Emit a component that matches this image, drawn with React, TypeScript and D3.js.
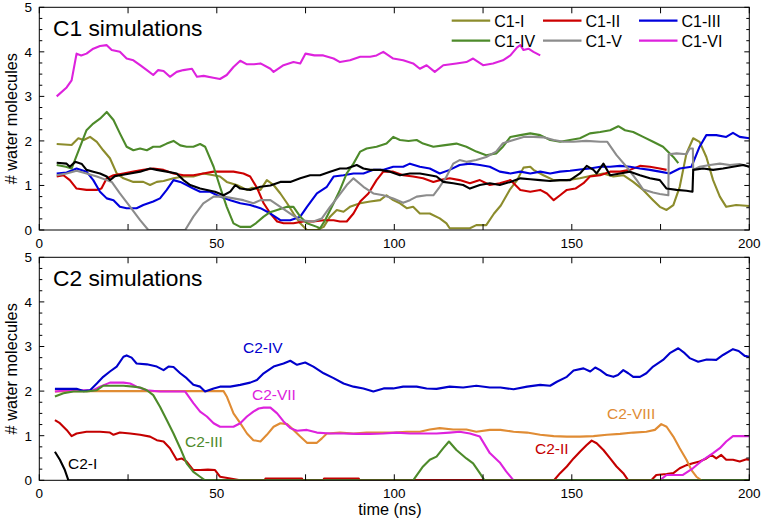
import React, { useEffect, useRef } from "react";
import * as d3 from "d3";

type P = [number, number] | null;

// ---------- top panel (C1) ----------
const C1_I: P[] = [[4.9,1.93],[7,1.92],[9.1,1.91],[11,2.06],[12.5,2.02],[14.3,2.09],[16.2,1.98],[18,1.79],[19.9,1.61],[21.8,1.27],[23.7,1.16],[26.5,1.08],[29.3,1.08],[31.2,1.01],[33.1,1.08],[35,1.1],[37.8,1.16],[40.6,1.2],[43.4,1.2],[46.2,1.27],[49.1,1.23],[50.9,1.2],[52.8,1.08],[55.6,1.01],[58.5,0.9],[60,0.95],[62.3,0.9],[64.1,1.12],[66,1.01],[67.9,0.82],[69.8,0.6],[71.6,0.37],[73.5,0.15],[75.4,0],[78.2,0],[80.1,0.07],[81.9,0.3],[83.8,0.45],[85.7,0.41],[87.5,0.52],[90.4,0.6],[93.2,0.64],[96,0.67],[97.8,0.78],[99.7,0.67],[101.6,0.6],[103.5,0.49],[105.3,0.52],[107.2,0.37],[110,0.37],[112.8,0.26],[114.7,0.15],[115.6,0.04],[121.3,0.04],[123.1,0.11],[125.9,0.11],[128.1,0.37],[130,0.55],[132.5,0.9],[134.6,1.12],[136.4,1.4],[138.3,1.42],[139.2,1.35],[142,1.23],[144.9,1.12],[148.6,1.12],[152.3,1.16],[156.1,1.23],[158.9,1.27],[161.7,1.2],[164.5,1.23],[167.3,1.08],[170.1,0.9],[172.9,0.67],[174.8,0.52],[176.7,0.45],[178.6,0.56],[180.4,0.97],[182.3,1.72],[184.2,2.06],[186,1.98],[187.9,1.64],[189.8,1.12],[191.7,0.75],[193.5,0.52],[196.3,0.56],[200,0.54]];
const C1_II: P[] = [[4.9,1.2],[6.8,1.23],[8.6,1.12],[10.5,0.93],[13.3,0.9],[16.2,0.9],[17.5,0.93],[19,1.16],[20.9,1.23],[23.7,1.27],[26.5,1.31],[29.3,1.35],[32.1,1.38],[35,1.35],[37.8,1.27],[40.6,1.23],[43.4,1.23],[46.2,1.27],[49.1,1.31],[51.9,1.31],[54.7,1.31],[57.5,1.27],[59.4,1.2],[61.3,0.95],[63.2,0.6],[65.1,0.37],[67,0.19],[68.8,0.15],[71.6,0.15],[74.4,0.19],[77.2,0.19],[80.1,0.22],[82.9,0.22],[84.7,0.19],[86.6,0.19],[88.5,0.37],[90.4,0.64],[92.7,0.82],[95,1.12],[96.9,1.31],[99.7,1.31],[102.5,1.23],[105.3,1.2],[108.1,1.16],[111,1.08],[112.8,1.12],[115.6,1.16],[118.4,1.12],[121.3,1.05],[124.1,1.12],[126.9,1.01],[129.7,1.05],[132.7,1.12],[135.5,0.9],[138.3,0.86],[141.1,0.9],[143,0.82],[144.9,0.67],[146.7,0.78],[148.6,0.9],[151,0.93],[153.3,1.05],[155.1,1.2],[158,1.23],[160.8,1.31],[163.6,1.31],[166.4,1.35],[169.2,1.44],[172,1.42],[174.8,1.38],[176.7,1.35]];
const C1_III: P[] = [[4.9,1.27],[7.7,1.29],[10.5,1.38],[13.3,1.31],[15.2,1.12],[17.1,0.86],[19,0.71],[20.9,0.67],[22.7,0.52],[24.6,0.49],[27.4,0.49],[29.3,0.56],[32.1,0.64],[34,0.71],[35.9,0.9],[37.8,1.12],[39.7,1.08],[41.5,1.01],[43.4,0.93],[45.3,0.86],[48.1,0.86],[50.9,0.75],[53.8,0.67],[56.6,0.6],[59.4,0.56],[62.3,0.49],[65.1,0.37],[67.9,0.22],[70.7,0.22],[73.5,0.3],[75.4,0.52],[78.2,0.82],[81,0.97],[82.9,1.2],[85.7,1.23],[88.5,1.27],[91.3,1.27],[94.1,1.35],[97,1.35],[99.7,1.42],[102.5,1.42],[104.4,1.49],[107.2,1.42],[110,1.38],[112.8,1.27],[115.6,1.35],[118.4,1.46],[121.3,1.49],[124.1,1.46],[126.9,1.42],[129.7,1.31],[132.7,1.27],[135.5,1.31],[138.3,1.27],[141.1,1.31],[143.9,1.27],[146.7,1.31],[149.5,1.33],[152.3,1.36],[155.1,1.38],[158,1.42],[160.8,1.42],[163.6,1.44],[166.4,1.42],[169.2,1.38],[172,1.35],[174.8,1.31],[177.6,1.27],[180.4,1.38],[183.7,1.42],[186,1.87],[187.9,2.13],[190.7,2.13],[193.5,2.09],[195.4,2.18],[197.3,2.09],[200,2.06]];
const C1_IV: P[] = [[4.9,1.46],[7.5,1.42],[9.1,1.38],[11.5,1.87],[13.3,2.24],[15.2,2.39],[17.1,2.5],[19,2.65],[20.9,2.47],[22.7,2.17],[24.6,1.87],[26.5,1.79],[28.4,1.83],[30.3,1.79],[32.1,1.87],[34,1.87],[35.9,1.94],[37.8,2.0],[39.7,1.9],[41.5,1.87],[43.4,1.87],[45.3,1.93],[46.7,1.87],[49.1,1.42],[50.9,0.97],[52.8,0.52],[54.7,0.15],[56.6,0.07],[59.5,0.07],[61,0.15],[63.2,0.3],[65,0.4],[67,0.45],[69.8,0.52],[71.6,0.52],[73.5,0.3],[75.4,0.15],[78.2,0.07],[79.1,0.04],[80.5,0.22],[82.9,0.6],[84.7,0.9],[86.6,1.27],[88.5,1.49],[90.4,1.76],[92.2,1.83],[95,1.87],[97.8,1.94],[99.7,2.09],[101.6,2.02],[104,2.0],[106.3,2.02],[108.1,1.94],[111,1.87],[113.8,1.9],[117.5,1.94],[120.3,1.87],[123.1,1.76],[125.9,1.68],[128.7,1.72],[130.6,1.87],[132.7,2.09],[135.5,2.13],[138.3,2.17],[141.1,2.13],[143.9,2.02],[146.7,1.98],[149.5,2.02],[152.3,2.06],[155.1,2.17],[158,2.2],[160.8,2.24],[163.1,2.33],[165,2.24],[167.3,2.2],[170.1,2.09],[172.9,1.98],[175.7,1.87],[178.6,1.64],[180,1.5]];
const C1_V: P[] = [[4.9,1.23],[7.7,1.27],[10.5,1.33],[13.3,1.27],[16.2,1.2],[19,1.12],[20.4,1.08],[22.7,0.82],[25.6,0.52],[28.4,0.22],[30.7,0],[41.1,0],[43.4,0.3],[46.2,0.6],[49.1,0.75],[51.9,0.75],[54.7,0.71],[57.5,0.67],[60.3,0.6],[62.3,0.67],[65.1,0.67],[67.9,0.52],[70.7,0.37],[73.5,0.22],[77.2,0.19],[79.6,0.26],[81.9,0.52],[83.8,0.71],[86.6,1.01],[88.5,1.16],[91.3,0.97],[94.1,0.82],[96.9,0.78],[99.7,0.71],[102.5,0.61],[104.4,0.67],[106.3,0.75],[109.1,0.78],[111,0.78],[112.8,0.97],[114.7,1.2],[116.6,1.49],[118.4,1.57],[120.3,1.53],[123.1,1.57],[125.9,1.64],[128.7,1.76],[130.6,1.95],[133.6,2.02],[136.4,2.09],[139.2,2.09],[142,2.08],[144.9,2.02],[147.7,1.98],[150.5,1.98],[154,2.0],[158,1.98],[160,1.98],[162.6,1.68],[165.4,1.42],[168.3,1.12],[170.1,0.91],[172.9,0.84],[174.8,0.81],[177.2,0.78],[177.3,1.7],[179.5,1.72],[182.3,1.7],[183.2,1.83],[184.1,1.83],[184.2,1.35],[186,1.42],[188.9,1.46],[191.7,1.49],[194.5,1.46],[197.3,1.48],[200,1.42]];
const C1_VI: P[] = [[4.9,3.0],[7.7,3.2],[9.1,3.36],[10.5,3.96],[11.8,3.92],[13.3,3.96],[15.2,4.07],[17.1,4.13],[19,4.15],[20.4,4.04],[22.7,4.0],[24.6,3.85],[26.5,3.81],[28.4,3.7],[30.3,3.59],[32.1,3.48],[33.5,3.59],[35,3.57],[36.8,3.44],[38.7,3.55],[40.6,3.59],[43,3.62],[44.4,3.44],[46.3,3.46],[49,3.42],[50.9,3.39],[52.8,3.48],[54.7,3.66],[56.6,3.8],[58.5,3.72],[60.5,3.72],[62.3,3.74],[65.1,3.62],[66,3.55],[68.8,3.7],[71.6,3.77],[73.5,3.74],[75,3.96],[77.5,3.92],[80,3.92],[82.9,3.85],[84.7,3.77],[87.5,3.81],[90.4,3.89],[93.2,3.89],[95,3.92],[96.9,4.0],[99.7,3.85],[102.5,3.81],[105.3,3.74],[107.2,3.62],[109.1,3.7],[111.4,3.55],[113.8,3.7],[117.5,3.74],[120.3,3.77],[122.2,3.85],[125,3.7],[127.8,3.74],[130.6,3.81],[132.7,3.92],[134.6,4.1],[135.5,4.15],[136.4,4.04],[137.8,4.07],[139.2,4.0],[141.1,3.92]];
const C1_BLACK: P[] = [[4.9,1.51],[7.7,1.49],[8.6,1.42],[10.1,1.53],[12,1.48],[13.3,1.35],[15.2,1.31],[17.1,1.27],[19,1.2],[19.9,1.12],[21.3,1.21],[22.7,1.23],[25.6,1.27],[28.4,1.31],[31.2,1.38],[33.1,1.35],[35.9,1.31],[38.7,1.27],[40.6,1.12],[42.5,1.01],[45.3,0.93],[47.2,0.9],[49.5,0.86],[51.9,0.78],[53.8,0.86],[55.2,1.01],[56.6,0.93],[59.4,0.9],[62.3,0.97],[65.1,1.0],[67.9,1.08],[70.7,1.08],[73.5,1.16],[76.3,1.23],[79.1,1.23],[81.9,1.31],[84.7,1.38],[86.6,1.38],[89.4,1.46],[91.3,1.38],[93.2,1.35],[96,1.35],[98.8,1.31],[101.6,1.23],[104.4,1.27],[107.2,1.27],[110,1.23],[111.9,1.2],[113.8,1.08],[116.6,1.05],[119.4,1.01],[121.3,0.93],[124.1,1.01],[126.9,1.05],[129.7,1.01],[132.7,1.08],[135.5,1.16],[138.3,1.14],[141.1,1.12],[143.9,1.1],[146.7,1.12],[149.5,1.12],[152.3,1.27],[154.2,1.44],[156.1,1.35],[157,1.27],[158.9,1.49],[160.8,1.23],[163.6,1.27],[166.4,1.31],[169.2,1.23],[172,1.16],[174.8,1.12],[176.7,0.93],[179.5,0.9],[182.3,0.88],[184,0.86],[184.2,1.35],[187,1.38],[189.8,1.35],[192.6,1.38],[195.4,1.42],[198.3,1.46],[200,1.42]];

// ---------- bottom panel (C2) ----------
const C2_I: P[] = [[4.4,0.64],[5.8,0.46],[7.2,0.23],[8.2,0],[200,0]];
const C2_II: P[] = [[4.4,1.35],[5.8,1.28],[7.7,1.13],[9.1,0.99],[10.5,1.05],[13.3,1.09],[17.1,1.09],[19.9,1.07],[20.9,1.02],[22.7,1.07],[25.6,1.05],[28.4,1.02],[31.2,0.98],[33.1,0.9],[35,0.87],[36.8,0.72],[38.7,0.46],[40.1,0.49],[41.5,0.42],[43.4,0.23],[45.3,0.23],[47.5,0.24],[49.5,0.23],[50.9,0.08],[53.8,0.04],[56.6,0],[63.5,0],[63.7,0.04],[74,0.04],[74.2,0],[80,0],[80.2,0.04],[90,0.04],[90.2,0],[145,0],[146.7,0.16],[148.6,0.31],[150.5,0.49],[152.3,0.64],[154.2,0.79],[155.6,0.89],[157,0.83],[158.9,0.68],[160.8,0.49],[162.6,0.31],[164.5,0.16],[165.9,0],[172.4,0],[173.8,0.12],[176.7,0.14],[178.6,0.16],[180.4,0.27],[182.3,0.34],[184.1,0.38],[186,0.42],[187.9,0.49],[189.3,0.57],[190.7,0.49],[192.1,0.57],[193.5,0.46],[195.4,0.46],[197.3,0.42],[199.2,0.47],[200,0.46]];
const C2_III: P[] = [[4.4,1.88],[6.8,1.95],[9.6,1.99],[13.3,1.99],[16.2,2.02],[18,2.12],[20.9,2.12],[23.7,2.12],[26.5,2.1],[28.4,2.08],[30.3,2.02],[32.1,1.91],[34,1.65],[35.9,1.35],[37.8,1.05],[39.7,0.72],[41.5,0.38],[43.4,0.19],[45.3,0.08],[46.7,0],[105.3,0],[108.1,0.31],[110,0.46],[111.9,0.53],[113.8,0.72],[115.4,0.87],[117.5,0.68],[120.3,0.49],[122.2,0.38],[124.1,0.16],[125.4,0],[200,0]];
const C2_IV: P[] = [[4.4,2.05],[7.7,2.05],[10.5,2.05],[12.4,2.0],[14.3,2.02],[16.2,2.17],[18,2.32],[19.9,2.44],[21.8,2.55],[23.7,2.77],[24.6,2.8],[26,2.75],[27.4,2.62],[30.3,2.6],[33.1,2.55],[35,2.47],[36.4,2.55],[37.8,2.54],[39.7,2.4],[41.5,2.29],[43.4,2.14],[45.3,2.1],[46.7,1.99],[49.1,2.06],[50.9,2.1],[53.8,2.1],[56.6,2.14],[59.4,2.19],[61.3,2.25],[63.2,2.4],[66,2.55],[68.8,2.62],[70.7,2.68],[72.6,2.59],[74.9,2.64],[77.2,2.55],[80.1,2.4],[82.9,2.29],[85.7,2.17],[88.5,2.1],[91.3,2.06],[94.1,1.99],[97,2.06],[99.7,2.06],[102.5,2.1],[106.3,2.1],[109.1,2.06],[111.9,2.05],[115.6,2.1],[119.4,2.08],[123.1,2.12],[126.9,2.08],[129.9,2.08],[133.6,2.04],[137.4,2.1],[141.1,2.14],[143.9,2.12],[145.8,2.21],[148.6,2.32],[150.5,2.46],[153.3,2.51],[155.2,2.44],[156.6,2.53],[158,2.47],[159.9,2.36],[161.7,2.32],[163,2.36],[164.5,2.47],[165.9,2.4],[167.3,2.32],[169.2,2.32],[171,2.4],[172.9,2.55],[175.7,2.7],[177.6,2.85],[180,2.96],[181.8,2.85],[183.2,2.74],[185.6,2.66],[188,2.71],[190.7,2.7],[192.6,2.81],[195.4,2.94],[197,2.9],[198.7,2.79],[200,2.77]];
const C2_VII: P[] = [[4.4,1.99],[7.7,2.02],[12.4,2.02],[15.2,2.02],[17.1,2.1],[19.9,2.19],[23.7,2.19],[25.6,2.17],[27.4,2.1],[30.3,2.02],[34,1.99],[41.1,1.99],[43.4,1.73],[45.3,1.54],[47.2,1.43],[49.1,1.28],[50.9,1.2],[54.7,1.2],[56.6,1.28],[58.5,1.43],[60.3,1.54],[61.8,1.61],[63.2,1.63],[65.1,1.63],[67,1.5],[68.8,1.32],[70.7,1.17],[72.6,1.11],[75.4,1.13],[78.2,1.07],[81.9,1.05],[85.7,1.05],[89.4,1.04],[93.2,1.04],[96.9,1.05],[100.6,1.07],[104.4,1.05],[108.1,1.05],[111.9,1.05],[115.6,1.07],[118.4,1.09],[121.3,1.05],[124.1,0.98],[126.9,0.61],[129.7,0.4],[131.5,0.2],[133.6,0],null,[174.8,0],[176.7,0.12],[181.3,0.12],[184.1,0.27],[187,0.46],[189.8,0.61],[191.7,0.72],[193.5,0.87],[195.4,0.99],[200,0.99]];
const C2_VIII: P[] = [[4.4,1.99],[10,2.0],[20,2.0],[30,2.0],[40,2.0],[51.9,2.0],[52.8,1.88],[54.7,1.5],[56.6,1.28],[58.5,1.05],[60.3,0.9],[62.3,0.87],[64.1,1.02],[66,1.2],[67.9,1.28],[69.8,1.26],[71.6,1.13],[73.5,0.98],[75.4,0.84],[78.2,0.84],[79.6,0.94],[81,1.05],[84.7,1.07],[88.5,1.05],[92.2,1.07],[96,1.07],[99.7,1.07],[103.5,1.09],[107.2,1.09],[110,1.14],[112.8,1.17],[116.6,1.14],[120.3,1.14],[123.1,1.09],[126.9,1.13],[129.9,1.13],[133.6,1.09],[137.4,1.07],[141.1,1.02],[144.9,0.99],[148.6,0.98],[152.3,0.98],[156.1,0.99],[159.9,1.02],[163.6,1.04],[167.3,1.07],[171,1.09],[173.4,1.13],[175.2,1.26],[176.7,1.2],[178.6,0.98],[180.4,0.72],[182.3,0.46],[183.7,0.23],[185.1,0.08],[186.5,0]];

const X_TICK_LABELS = [0, 50, 100, 150, 200];
const Y_TICK_LABELS = [0, 1, 2, 3, 4, 5];

const COL = {
  olive: "#8c8c2c",
  red: "#cc0000",
  blue: "#0000dd",
  green: "#4d8a2a",
  gray: "#8c8c8c",
  magenta: "#dd22dd",
  orange: "#e08c34",
  black: "#000000",
};

const TOP_SERIES = [
  { name: "C1-I", data: C1_I, color: COL.olive },
  { name: "C1-II", data: C1_II, color: COL.red },
  { name: "C1-III", data: C1_III, color: COL.blue },
  { name: "C1-IV", data: C1_IV, color: COL.green },
  { name: "C1-V", data: C1_V, color: COL.gray },
  { name: "C1-VI", data: C1_VI, color: COL.magenta },
  { name: "", data: C1_BLACK, color: COL.black },
];

const BOTTOM_SERIES = [
  { name: "C2-I", data: C2_I, color: COL.black, lx: 68, ly: 469 },
  { name: "C2-II", data: C2_II, color: "#c40000", lx: 535, ly: 454 },
  { name: "C2-VIII", data: C2_VIII, color: COL.orange, lx: 607, ly: 419 },
  { name: "C2-VII", data: C2_VII, color: COL.magenta, lx: 252, ly: 400 },
  { name: "C2-IV", data: C2_IV, color: "#0000cc", lx: 243, ly: 353 },
  { name: "C2-III", data: C2_III, color: COL.green, lx: 185, ly: 447 },
];

const FONT = "'Liberation Sans', Arial, Helvetica, sans-serif";
const X0 = 39.3, X1 = 749.3;

export default function App() {
  const ref = useRef<SVGSVGElement | null>(null);

  useEffect(() => {
    const svg = d3.select(ref.current);
    svg.selectAll("*").remove();
    const x = d3.scaleLinear().domain([0, 200]).range([X0, X1]);

    const panels = [
      { top: 7.3, bottom: 230, title: "C1 simulations", series: TOP_SERIES, labels: false },
      { top: 257.3, bottom: 480.3, title: "C2 simulations", series: BOTTOM_SERIES, labels: true },
    ];

    panels.forEach((p, pi) => {
      const y = d3.scaleLinear().domain([0, 5]).range([p.bottom, p.top]);
      const g = svg.append("g");
      const clipId = "clip" + pi;
      svg.append("clipPath").attr("id", clipId).append("rect")
        .attr("x", X0).attr("y", p.top - 2).attr("width", X1 - X0).attr("height", p.bottom - p.top + 2);

      const line = d3.line<P>()
        .defined((d) => d !== null)
        .x((d) => x((d as [number, number])[0]))
        .y((d) => y((d as [number, number])[1]));

      const lines = g.append("g").attr("clip-path", `url(#${clipId})`);
      p.series.forEach((s: any) => {
        lines.append("path")
          .attr("d", line(s.data) as string)
          .attr("fill", "none")
          .attr("stroke", s.color)
          .attr("stroke-width", 2.1)
          .attr("stroke-linejoin", "round");
      });

      // box
      g.append("rect").attr("x", X0).attr("y", p.top).attr("width", X1 - X0).attr("height", p.bottom - p.top)
        .attr("fill", "none").attr("stroke", "#000").attr("stroke-width", 1);

      // x ticks every 25
      d3.range(0, 201, 25).forEach((t) => {
        const px = x(t);
        g.append("line").attr("x1", px).attr("x2", px).attr("y1", p.bottom).attr("y2", p.bottom - 6).attr("stroke", "#000");
        g.append("line").attr("x1", px).attr("x2", px).attr("y1", p.top).attr("y2", p.top + 6).attr("stroke", "#000");
      });
      X_TICK_LABELS.forEach((t) => {
        g.append("text").attr("x", x(t)).attr("y", p.bottom + 17.5).attr("text-anchor", "middle")
          .attr("font-family", FONT).attr("font-size", 13.5).text(String(t));
      });
      // y ticks every 0.25
      d3.range(0, 5.001, 0.25).forEach((v) => {
        const py = y(v);
        const major = Math.abs(v - Math.round(v)) < 1e-6;
        const len = major ? 5 : 3;
        g.append("line").attr("x1", X0).attr("x2", X0 + len).attr("y1", py).attr("y2", py).attr("stroke", "#000");
        g.append("line").attr("x1", X1).attr("x2", X1 - len).attr("y1", py).attr("y2", py).attr("stroke", "#000");
      });
      Y_TICK_LABELS.forEach((v) => {
        g.append("text").attr("x", 32).attr("y", y(v)).attr("dy", "0.36em").attr("text-anchor", "end")
          .attr("font-family", FONT).attr("font-size", 13.5).text(String(v));
      });
      // y label
      const cy = (p.top + p.bottom) / 2;
      g.append("text").attr("transform", `translate(17,${cy}) rotate(-90)`).attr("text-anchor", "middle")
        .attr("font-family", FONT).attr("font-size", 16.3).text("# water molecules");
      // title
      g.append("text").attr("x", 53).attr("y", p.top + 29).attr("font-family", FONT).attr("font-size", 22.8)
        .text(p.title);

      if (p.labels) {
        p.series.forEach((s: any) => {
          g.append("text").attr("x", s.lx).attr("y", s.ly).attr("fill", s.color)
            .attr("font-family", FONT).attr("font-size", 15.5).text(s.name);
        });
      } else {
        const cols = [451.7, 543, 639];
        const rows = [20.7, 40.7];
        TOP_SERIES.slice(0, 6).forEach((s, i) => {
          const cx = cols[i % 3];
          const ry = rows[Math.floor(i / 3)];
          g.append("line").attr("x1", cx).attr("x2", cx + 38.5).attr("y1", ry).attr("y2", ry)
            .attr("stroke", s.color).attr("stroke-width", 2.2);
          g.append("text").attr("x", cx + 42.5).attr("y", ry + 5.8).attr("font-family", FONT)
            .attr("font-size", 16).text(s.name);
        });
      }
    });

    svg.append("text").attr("x", 390).attr("y", 515).attr("text-anchor", "middle")
      .attr("font-family", FONT).attr("font-size", 16.3).text("time (ns)");
  }, []);

  return (
    <svg ref={ref} width={762} height={521}
      style={{ position: "absolute", left: 0, top: 0, background: "#fff" }} />
  );
}
